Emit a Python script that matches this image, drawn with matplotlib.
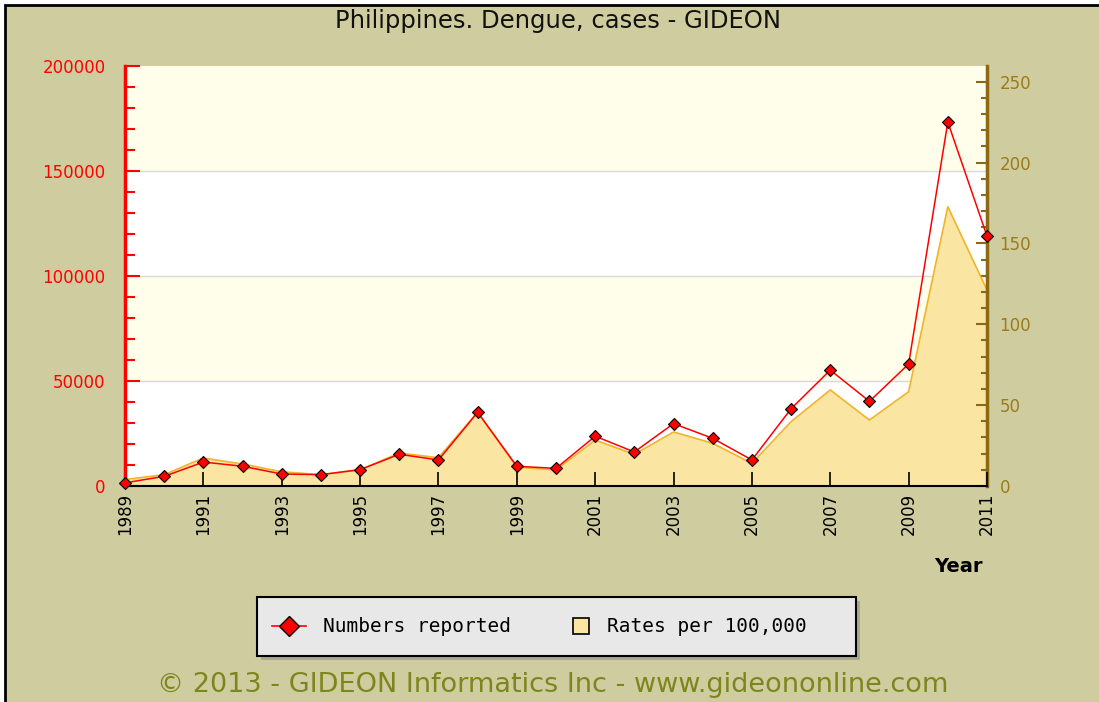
import matplotlib
matplotlib.use('Agg')
import matplotlib.pyplot as plt
from matplotlib.lines import Line2D
from matplotlib.patches import Rectangle
from matplotlib.ticker import MultipleLocator, FuncFormatter

# 数据
years = list(range(1989, 2012))
numbers = [1500, 4600, 11400, 9400, 5700, 5400, 7800, 15100, 12400, 35100,
           9400, 8400, 23700, 16200, 29700, 22700, 12400, 36800, 55200, 40300,
           58100, 173300, 119000]
rates = [4, 7, 17.3, 13.6, 8.8, 7, 10, 20.4, 17.5, 45.6,
         11.6, 9.9, 28.4, 19.6, 33.4, 26.4, 14.0, 39.8, 59.4, 40.8,
         58.3, 172.7, 121.2]

title = 'Philippines. Dengue, cases - GIDEON'
footer = '\u00a9 2013 - GIDEON Informatics Inc - www.gideononline.com'
legend_labels = ['Numbers reported', 'Rates per 100,000']

bg = '#cfcd9f'
band = '#fefeea'
fill_c = '#fbe5a3'
fill_edge = '#f0b428'
brown = '#8b6914'
brown_txt = '#9b7b1a'

W, H = 1099, 702
fig = plt.figure(figsize=(W / 100, H / 100), dpi=100)
fig.patch.set_facecolor('white')

# 外框
fig.patches.append(Rectangle((5 / W, -0.1), 1.2, 1.1 - 5 / H, transform=fig.transFigure,
                             facecolor=bg, edgecolor='black', linewidth=2, zorder=-10))

pos = [125 / W, (H - 486) / H, (987 - 125) / W, (486 - 66) / H]

# 背景带
ax_bg = fig.add_axes(pos, zorder=-5)
ax_bg.set_xlim(0, 1)
ax_bg.set_ylim(0, 200000)
for lo, hi, c in [(0, 50000, 'white'), (50000, 100000, band),
                  (100000, 150000, 'white'), (150000, 200000, band)]:
    ax_bg.axhspan(lo, hi, color=c, lw=0)
for yv in (50000, 100000, 150000):
    ax_bg.axhline(yv, color='#d8d8d8', lw=1)
ax_bg.axis('off')

ax = fig.add_axes(pos)
ax.set_xlim(1989, 2011)
ax.set_ylim(0, 200000)

ax2 = ax.twinx()
ax2.set_ylim(0, 259.7)
ax2.fill_between(years, rates, 0, color=fill_c, lw=0, zorder=1)
ax2.plot(years, rates, color=fill_edge, lw=1.2, zorder=2)

ax.set_zorder(ax2.get_zorder() + 1)
ax.patch.set_visible(False)
ax2.patch.set_visible(False)

ax.plot(years, numbers, color='red', lw=1.1, marker='D', markersize=6,
        markerfacecolor='red', markeredgecolor='black', markeredgewidth=0.8,
        clip_on=False, zorder=3)

# 坐标轴样式
ax.set_xticks(range(1989, 2012, 2))
ax.set_xticklabels([str(y) for y in range(1989, 2012, 2)], rotation=90, fontsize=12)
ax.tick_params(axis='x', direction='in', length=10, width=1.2, color='black', pad=5)

ax.yaxis.set_major_locator(MultipleLocator(50000))
ax.yaxis.set_minor_locator(MultipleLocator(10000))
ax.tick_params(axis='y', which='major', direction='in', length=11, width=1.5,
               colors='red', labelsize=12, pad=14)
ax.tick_params(axis='y', which='minor', direction='in', length=7, width=1.5, color='red')
ax.yaxis.set_major_formatter(FuncFormatter(lambda v, p: f'{int(v)}'))

ax2.yaxis.set_major_locator(MultipleLocator(50))
ax2.yaxis.set_minor_locator(MultipleLocator(10))
ax2.tick_params(axis='y', which='major', direction='in', length=8, width=1.5,
                colors=brown, labelcolor=brown_txt, labelsize=12, pad=9)
ax2.tick_params(axis='y', which='minor', direction='in', length=4, width=1.5, color=brown)

for a in (ax, ax2):
    a.spines['top'].set_visible(False)
ax.spines['right'].set_visible(False)
ax.spines['left'].set_color('red')
ax.spines['left'].set_linewidth(2.5)
ax.spines['bottom'].set_color('black')
ax.spines['bottom'].set_linewidth(1.5)
ax2.spines['left'].set_visible(False)
ax2.spines['bottom'].set_visible(False)
ax2.spines['right'].set_color(brown)
ax2.spines['right'].set_linewidth(2.5)

fig.text(558 / W, 1 - 21 / H, title, ha='center', va='center', fontsize=17.5, color='#111111')
fig.text(958 / W, 1 - 567 / H, 'Year', ha='center', va='center', fontsize=14,
         fontweight='bold', color='black')
fig.text(553 / W, 1 - 685 / H, footer, ha='center', va='center', fontsize=19.5,
         color='#7d861c')

# 图例框
lx0, ly0, lx1, ly1 = 257, 597, 856, 656
fig.patches.append(Rectangle(((lx0 + 4) / W, 1 - (ly1 + 4) / H), (lx1 - lx0) / W,
                             (ly1 - ly0) / H, transform=fig.transFigure,
                             facecolor='#a8a890', edgecolor='none', zorder=1))
fig.patches.append(Rectangle((lx0 / W, 1 - ly1 / H), (lx1 - lx0) / W, (ly1 - ly0) / H,
                             transform=fig.transFigure, facecolor='#e8e8e8',
                             edgecolor='black', linewidth=1.5, zorder=2))
ly = 1 - 626 / H
fig.lines.append(Line2D([272 / W, 306 / W], [ly, ly], transform=fig.transFigure,
                        color='red', lw=1.2, zorder=3))
fig.lines.append(Line2D([289 / W], [ly], transform=fig.transFigure, marker='D',
                        markersize=10, markerfacecolor='red', markeredgecolor='black',
                        markeredgewidth=1, zorder=4))
fig.patches.append(Rectangle((573 / W, 1 - 634 / H), 16 / W, 16 / H, transform=fig.transFigure,
                             facecolor=fill_c, edgecolor='black', linewidth=1.2, zorder=4))
fig.text(323 / W, ly, legend_labels[0], ha='left', va='center', fontsize=14,
         family='DejaVu Sans Mono', zorder=5)
fig.text(607 / W, ly, legend_labels[1], ha='left', va='center', fontsize=14,
         family='DejaVu Sans Mono', zorder=5)

fig.savefig('out.png', dpi=100, facecolor=fig.get_facecolor())
